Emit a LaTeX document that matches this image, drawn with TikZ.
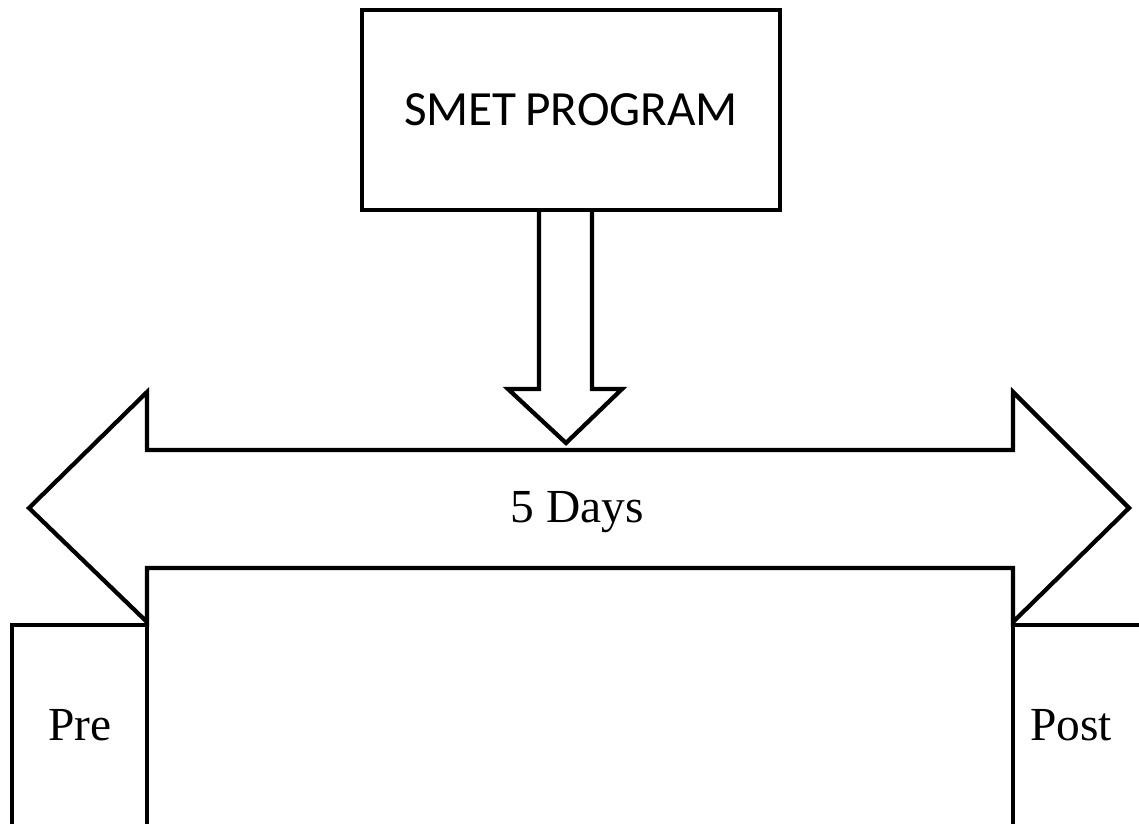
\documentclass[tikz,border=0pt]{standalone}
\usepackage{fontspec}
\setmainfont{Liberation Serif}
\newfontfamily\calib{Carlito}
\begin{document}
\begin{tikzpicture}[x=0.02cm,y=-0.02cm,
  outline/.style={draw=black,line width=0.085cm,line join=miter},
  serif/.style={font=\fontsize{27}{30}\selectfont},
  sanslabel/.style={font=\calib\fontsize{28}{32}\selectfont}]
\useasboundingbox (0,0) rectangle (1139,823);
\clip (0,0) rectangle (1139,823);
% SMET box
\node[outline,minimum width=418*0.02cm,minimum height=200*0.02cm,inner sep=0pt,sanslabel]
  (smet) at (571,110) {SMET\hspace{0.18em}PROGRAM};
% block arrow down
\draw[outline] (smet.south -| 539,0) -- (539,389) -- (508,389) -- (566,443) -- (622,389) -- (592,389) -- (smet.south -| 592,0);
% double arrow
\draw[outline] (147,450) -- (147,392) -- (29,508) -- (147,622) -- (147,568) -- (1013,568)
  -- (1013,622) -- (1129,508) -- (1013,392) -- (1013,450) -- cycle;
\node[serif] (days) at (577,512) {5 Days};
% lower boxes
\draw[outline] (147,568) -- (147,850);
\draw[outline] (1013,568) -- (1013,850);
\draw[outline] (147,625) -- (12,625) -- (12,850);
\draw[outline] (1013,625) -- (1160,625);
\node[serif] (pre) at (80,725) {Pre};
\node[serif] (post) at (1071,725) {Post};
\end{tikzpicture}
\end{document}
